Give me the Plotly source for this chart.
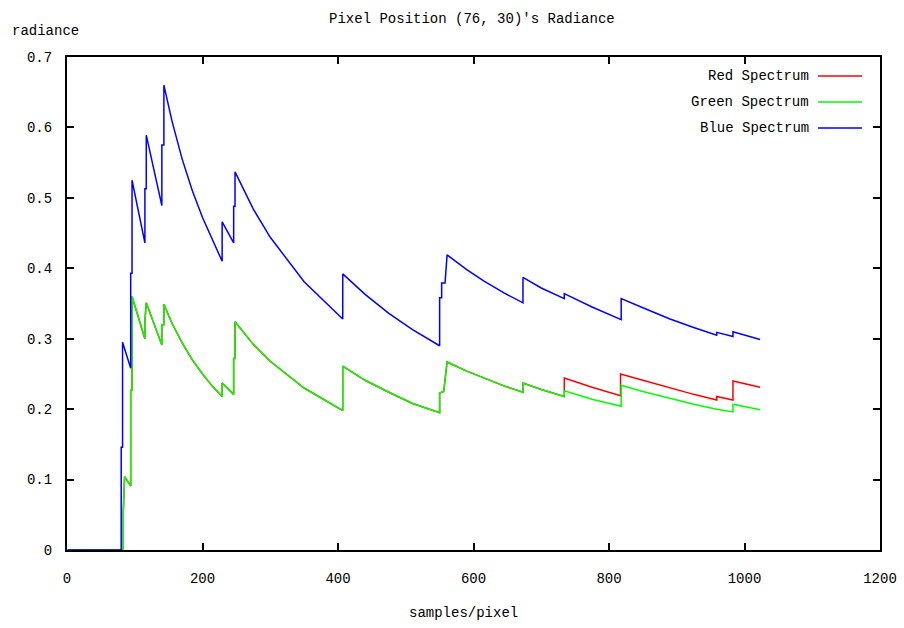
import plotly.graph_objects as go

# ---- data ----
blue_x = [1, 80, 80, 82, 82, 94, 94, 96, 96, 115, 115, 117, 117, 140, 140, 143, 143,
          155, 170, 185, 200, 215, 229, 229, 246, 246, 248, 248, 275, 300, 350, 407, 407,
          440, 475, 510, 550, 550, 553, 553, 558, 561, 590, 615, 645, 673, 673, 700, 734, 734,
          775, 818, 818, 850, 890, 925, 959, 959, 983, 983, 1023]
blue_y = [0, 0, 0.146, 0.146, 0.295, 0.258, 0.393, 0.393, 0.525, 0.436, 0.513, 0.513, 0.589,
          0.489, 0.575, 0.575, 0.660, 0.609, 0.555, 0.510, 0.472, 0.439, 0.410, 0.466, 0.436,
          0.488, 0.488, 0.537, 0.484, 0.444, 0.381, 0.328, 0.392, 0.363, 0.336, 0.313, 0.290,
          0.358, 0.358, 0.379, 0.379, 0.419, 0.398, 0.382, 0.365, 0.351, 0.387, 0.372, 0.357,
          0.364, 0.345, 0.327, 0.357, 0.344, 0.328, 0.316, 0.305, 0.309, 0.303, 0.310, 0.299]

green_x = [1, 83, 83, 85, 94, 94, 96, 96, 115, 115, 117, 140, 140, 143, 143,
           155, 170, 185, 200, 215, 229, 229, 246, 246, 248, 248, 275, 300, 350, 407, 407,
           440, 475, 510, 550, 550, 556, 561, 590, 615, 645, 673, 673, 700, 734, 734,
           775, 818, 818, 850, 890, 925, 959, 983, 983, 1023]
green_y = [0, 0, 0.052, 0.104, 0.091, 0.227, 0.227, 0.360, 0.300, 0.325, 0.351, 0.291, 0.320,
           0.320, 0.349, 0.322, 0.294, 0.270, 0.250, 0.232, 0.218, 0.237, 0.221, 0.272, 0.272,
           0.324, 0.292, 0.268, 0.230, 0.198, 0.261, 0.241, 0.224, 0.208, 0.195, 0.223, 0.225,
           0.267, 0.254, 0.244, 0.233, 0.224, 0.237, 0.228, 0.218, 0.226, 0.214, 0.204, 0.234,
           0.225, 0.215, 0.207, 0.200, 0.196, 0.207, 0.199]

# red coincides with green until ~734 samples, then separates
red_shared_count = 45
red_tail_x = [734, 775, 817, 817, 850, 890, 925, 959, 959, 983, 983, 1023]
red_tail_y = [0.244, 0.231, 0.219, 0.250, 0.241, 0.230, 0.221, 0.213, 0.218, 0.213, 0.240, 0.231]
red_x = green_x[:red_shared_count] + red_tail_x
red_y = green_y[:red_shared_count] + red_tail_y

x_ticks = [0, 200, 400, 600, 800, 1000, 1200]
y_ticks = [0, 0.1, 0.2, 0.3, 0.4, 0.5, 0.6, 0.7]
y_tick_text = ["0", "0.1", "0.2", "0.3", "0.4", "0.5", "0.6", "0.7"]

series = [("Red Spectrum", red_x, red_y, "#ff0000"),
          ("Green Spectrum", green_x, green_y, "#00ff00"),
          ("Blue Spectrum", blue_x, blue_y, "#0000ff")]

FONT = "Liberation Mono"

fig = go.Figure()
for name, xs, ys, col in series:
    fig.add_trace(go.Scatter(x=xs, y=ys, mode="lines", name=name,
                             line=dict(color=col, width=1.5), showlegend=False))

# gnuplot-style legend: text right-aligned, line sample on the right
ann = []
shapes = []
rows = [0.9615, 0.9087, 0.856]
for (name, _, _, col), yy in zip(series, rows):
    ann.append(dict(text=name, xref="paper", yref="paper", x=0.9150, y=yy,
                    xanchor="right", yanchor="middle", showarrow=False,
                    font=dict(family=FONT, size=14, color="#000")))
    shapes.append(dict(type="line", xref="paper", yref="paper", x0=0.9237, x1=0.9779,
                       y0=yy, y1=yy, line=dict(color=col, width=1.5)))

ann.append(dict(text="radiance", xref="paper", yref="paper", x=-0.070, y=1.053,
                xanchor="left", yanchor="middle", showarrow=False,
                font=dict(family=FONT, size=14, color="#000")))
ann.append(dict(text="samples/pixel", xref="paper", yref="paper", x=0.488, y=-0.1278,
                xanchor="center", yanchor="middle", showarrow=False,
                font=dict(family=FONT, size=14, color="#000")))

axis_common = dict(showline=True, linecolor="#000", linewidth=2, mirror="ticks",
                   ticks="inside", ticklen=7, tickwidth=1.5, tickcolor="#000",
                   showgrid=False, zeroline=False, layer="below traces",
                   tickfont=dict(family=FONT, size=14, color="#000"))

fig.update_layout(
    width=904, height=628,
    margin=dict(l=67, r=24, t=57, b=78, autoexpand=False),
    paper_bgcolor="white", plot_bgcolor="white",
    title=dict(text="Pixel Position (76, 30)'s Radiance", x=0.522, xanchor="center",
               y=0.971, yanchor="middle", font=dict(family=FONT, size=14, color="#000")),
    xaxis=dict(range=[0, 1200], tickvals=x_ticks, ticklabelstandoff=14, **axis_common),
    yaxis=dict(range=[0, 0.7], tickvals=y_ticks, ticktext=y_tick_text,
               ticklabelstandoff=10, **axis_common),
    annotations=ann, shapes=shapes,
)

fig.write_html("out.html")
